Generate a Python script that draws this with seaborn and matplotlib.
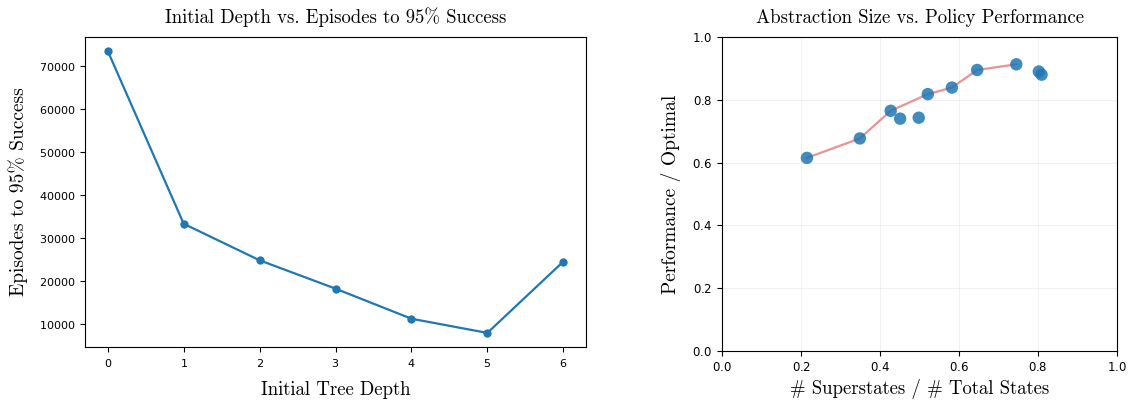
import matplotlib
matplotlib.use("Agg")
import matplotlib.pyplot as plt
import pandas as pd
import seaborn as sns

# depth experiment
depths = [0, 1, 2, 3, 4, 5, 6]
episodes = [73500, 33300, 24800, 18200, 11200, 7900, 24500]

# abstraction size experiment
size_ratio = [0.215, 0.349, 0.427, 0.451, 0.498, 0.521, 0.582, 0.646, 0.745, 0.802, 0.809]
performance = [0.615, 0.677, 0.765, 0.740, 0.743, 0.818, 0.839, 0.895, 0.913, 0.890, 0.880]
on_frontier = [True, True, True, False, False, True, True, True, True, False, False]

df_depth = pd.DataFrame({"depth": depths, "episodes": episodes})
df_size = pd.DataFrame({"ratio": size_ratio, "perf": performance, "front": on_frontier})

serif = "cmr10"
plt.rcParams["axes.formatter.use_mathtext"] = True

fig = plt.figure(figsize=(11.29, 4), dpi=100)
ax1 = fig.add_axes([0.0753, 0.1325, 0.4438, 0.775])
ax2 = fig.add_axes([0.6395, 0.1225, 0.3499, 0.785])

sns.lineplot(data=df_depth, x="depth", y="episodes", marker="o", markersize=6,
             markeredgewidth=0, color="#1f77b4", linewidth=1.6, ax=ax1)
ax1.set_title("Initial Depth vs. Episodes to 95% Success", family=serif, fontsize=13.5, pad=10)
ax1.set_xlabel("Initial Tree Depth", family=serif, fontsize=13.5, labelpad=9)
ax1.set_ylabel("Episodes to 95% Success", family=serif, fontsize=14, labelpad=8)
ax1.set_yticks([10000, 20000, 30000, 40000, 50000, 60000, 70000])
ax1.tick_params(labelsize=8)

front = df_size[df_size["front"]]
sns.lineplot(data=front, x="ratio", y="perf", color="#e06666", alpha=0.7,
             linewidth=1.6, ax=ax2, zorder=2)
sns.scatterplot(data=df_size, x="ratio", y="perf", s=80, color="#1f77b4",
                alpha=0.85, edgecolor="none", ax=ax2, zorder=3)
ax2.set_xlim(0, 1)
ax2.set_ylim(0, 1)
ax2.grid(True, color="#dddddd", linewidth=0.5, alpha=0.6)
ax2.set_title("Abstraction Size vs. Policy Performance", family=serif, fontsize=13.5, pad=10)
ax2.set_xlabel("# Superstates / # Total States", family=serif, fontsize=13.5, labelpad=4)
ax2.set_ylabel("Performance / Optimal", family=serif, fontsize=14, labelpad=8)
ax2.tick_params(labelsize=8.5)

fig.savefig("out.png", dpi=100)
